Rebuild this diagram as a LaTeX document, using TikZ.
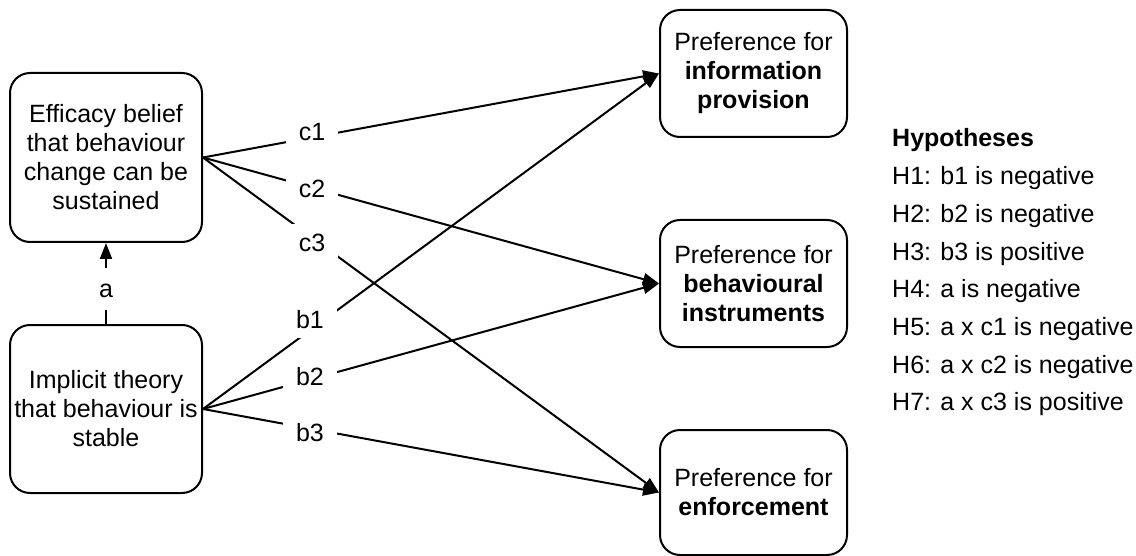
\documentclass[tikz,border=0pt]{standalone}
\usepackage{fontspec}
\setmainfont{Liberation Sans}
\usetikzlibrary{arrows.meta}
\begin{document}
\begin{tikzpicture}[x=1pt,y=-1pt,
  box/.style={draw, line width=2pt, rounded corners=20pt, align=center,
    font=\fontsize{25}{29}\selectfont, inner sep=0pt},
  lbl/.style={fill=white, inner xsep=13pt, inner ysep=10pt,
    font=\fontsize{25}{29}\selectfont, text height=18pt, text depth=0pt},
  alabel/.style={fill=white, inner xsep=6pt, inner ysep=12pt,
    font=\fontsize{25}{29}\selectfont, text height=18pt, text depth=0pt},
  conn/.style={line width=2pt, -{Triangle[length=16pt,width=12pt]}},
  hyp/.style={anchor=base west, inner sep=0pt, font=\fontsize{25}{30}\selectfont}]
\useasboundingbox (0,0) rectangle (1136,556);

% boxes
\node[box, minimum width=192pt, minimum height=169pt] (eff) at (106,157.5)
  {Efficacy belief\\that behaviour\\change can be\\sustained};
\node[box, minimum width=192pt, minimum height=168pt] (imp) at (106,409)
  {Implicit theory\\that behaviour is\\stable};
\node[box, minimum width=187pt, minimum height=127pt] (info) at (753.5,73.5)
  {Preference for\\\textbf{information}\\\textbf{provision}};
\node[box, minimum width=187pt, minimum height=127pt] (beh) at (753.5,283.5)
  {Preference for\\\textbf{behavioural}\\\textbf{instruments}};
\node[box, minimum width=187pt, minimum height=125pt] (enf) at (753.5,492.5)
  {Preference for\\\textbf{enforcement}};

% connectors
\draw[conn] (eff.east) -- (info.west);
\draw[conn] (eff.east) -- (beh.west);
\draw[conn] (eff.east) -- (enf.west);
\draw[conn] (imp.east) -- (info.west);
\draw[conn] (imp.east) -- (beh.west);
\draw[conn] (imp.east) -- (enf.west);
\draw[conn] (imp.north) -- (eff.south);

% labels
\node[lbl] (c1) at (312,132) {c1};
\node[lbl] (c2) at (312,189) {c2};
\node[lbl] (c3) at (312,243) {c3};
\node[lbl] (b1) at (310,319) {b1};
\node[lbl] (b2) at (310,376) {b2};
\node[lbl] (b3) at (310,432) {b3};
\node[alabel] (la) at (106,289) {a};

% hypotheses
\node[hyp] (h0) at (892,147) {\textbf{Hypotheses}};
\node[hyp] (h1) at (892,184.7) {H1: b1 is negative};
\node[hyp] (h2) at (892,222.4) {H2: b2 is negative};
\node[hyp] (h3) at (892,260.1) {H3: b3 is positive};
\node[hyp] (h4) at (892,297.8) {H4: a is negative};
\node[hyp] (h5) at (892,335.5) {H5: a x c1 is negative};
\node[hyp] (h6) at (892,373.2) {H6: a x c2 is negative};
\node[hyp] (h7) at (892,410.9) {H7: a x c3 is positive};
\end{tikzpicture}
\end{document}
